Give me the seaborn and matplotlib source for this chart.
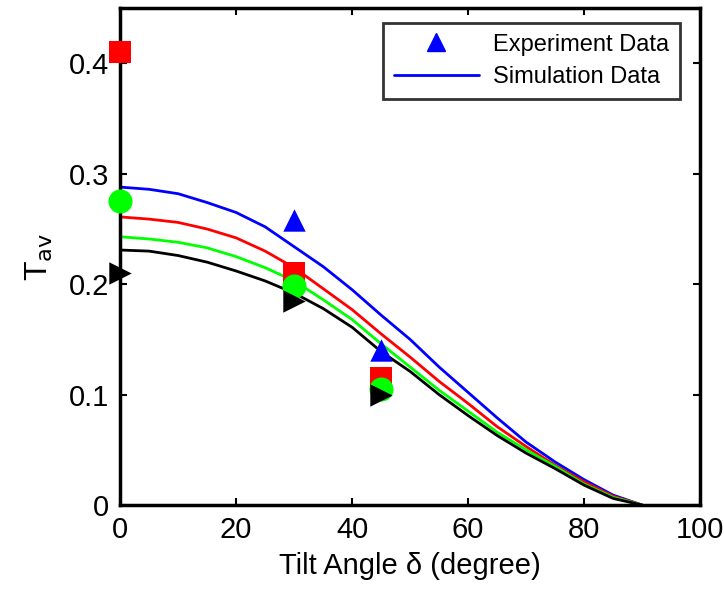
import numpy as np
import pandas as pd
import matplotlib
matplotlib.use("Agg")
from matplotlib import pyplot as plt
from matplotlib.lines import Line2D
import seaborn as sns

# simulation curves, every 5 degrees
angle = [0, 5, 10, 15, 20, 25, 30, 35, 40, 45, 50, 55, 60, 65, 70, 75, 80, 85, 90]
sim_blue = [0.288, 0.286, 0.282, 0.274, 0.265, 0.252, 0.234, 0.216, 0.195, 0.172,
            0.150, 0.125, 0.102, 0.079, 0.057, 0.039, 0.023, 0.009, 0.0]
sim_red = [0.261, 0.259, 0.256, 0.250, 0.242, 0.230, 0.215, 0.196, 0.177, 0.155,
           0.134, 0.112, 0.092, 0.071, 0.053, 0.036, 0.021, 0.008, 0.0]
sim_green = [0.243, 0.241, 0.238, 0.233, 0.225, 0.215, 0.203, 0.186, 0.168, 0.146,
             0.125, 0.104, 0.085, 0.066, 0.050, 0.035, 0.019, 0.007, 0.0]
sim_black = [0.231, 0.230, 0.226, 0.220, 0.212, 0.203, 0.192, 0.178, 0.161, 0.139,
             0.121, 0.100, 0.081, 0.063, 0.047, 0.033, 0.018, 0.006, 0.0]

# experiment points
exp_blue_x = [30, 45]
exp_blue_y = [0.258, 0.140]
exp_red_x = [0, 30, 45]
exp_red_y = [0.410, 0.210, 0.115]
exp_green_x = [0, 30, 45]
exp_green_y = [0.275, 0.198, 0.105]
exp_black_x = [0, 30, 45]
exp_black_y = [0.210, 0.185, 0.100]

sns.set_style("white")
plt.rcParams['font.family'] = ['Liberation Sans', 'DejaVu Sans']
plt.rcParams['text.color'] = 'black'
plt.rcParams['axes.labelcolor'] = 'black'

fig = plt.figure(figsize=(7.24, 5.9), dpi=100)
ax = fig.add_axes([0.166, 0.144, 0.801, 0.842])

sim = pd.DataFrame({
    'angle': angle * 4,
    'T': sim_blue + sim_red + sim_green + sim_black,
    'set': ['b'] * len(angle) + ['r'] * len(angle) + ['g'] * len(angle) + ['k'] * len(angle),
})
pal = {'b': '#0000ff', 'r': '#ff0000', 'g': '#00ff00', 'k': '#000000'}
sns.lineplot(data=sim, x='angle', y='T', hue='set', palette=pal, linewidth=2,
             legend=False, ax=ax, estimator=None)

sns.scatterplot(x=exp_red_x, y=exp_red_y, marker='s', s=240, color='#ff0000',
                linewidth=0, ax=ax, clip_on=False, zorder=5)
sns.scatterplot(x=exp_blue_x, y=exp_blue_y, marker='^', s=260, color='#0000ff',
                linewidth=0, ax=ax, clip_on=False, zorder=5)
sns.scatterplot(x=exp_green_x, y=exp_green_y, marker='o', s=300, color='#00ff00',
                linewidth=0, ax=ax, clip_on=False, zorder=6)
sns.scatterplot(x=exp_black_x, y=exp_black_y, marker='>', s=260, color='#000000',
                linewidth=0, ax=ax, clip_on=False, zorder=7)

ax.set_xlim(0, 100)
ax.set_ylim(0, 0.45)
ax.set_xticks([0, 20, 40, 60, 80, 100])
ax.set_yticks([0, 0.1, 0.2, 0.3, 0.4])
ax.set_yticklabels(['0', '0.1', '0.2', '0.3', '0.4'])
ax.tick_params(direction='in', length=5, width=1.5, labelsize=21, top=True, right=True,
               bottom=True, left=True, colors='black', pad=8)
for sp in ax.spines.values():
    sp.set_linewidth(2.5)
    sp.set_color('black')

ax.set_xlabel('Tilt Angle δ (degree)', fontsize=21, labelpad=6)
ax.set_ylabel('T$_{\\rm av}$', fontsize=23, labelpad=10)

handles = [
    Line2D([], [], linestyle='none', marker='^', markersize=13, color='#0000ff'),
    Line2D([], [], color='#0000ff', linewidth=2),
]
leg = ax.legend(handles, ['Experiment Data', 'Simulation Data'], loc='upper right',
                fontsize=17, frameon=True, fancybox=False, handlelength=3.6,
                borderpad=0.45, labelspacing=0.45, handletextpad=0.6,
                bbox_to_anchor=(0.985, 0.994))
leg.get_frame().set_edgecolor('black')
leg.get_frame().set_linewidth(2)

fig.savefig('out.png', dpi=100)
